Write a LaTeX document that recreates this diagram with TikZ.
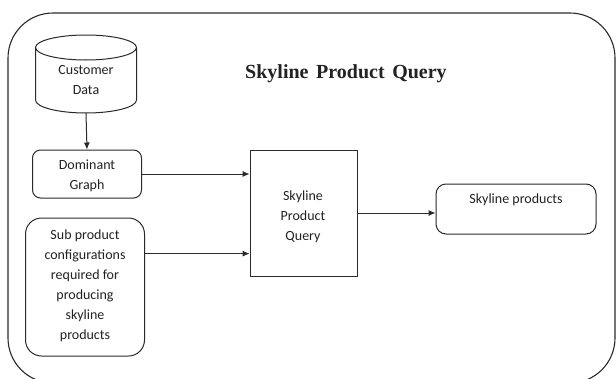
\documentclass[tikz,border=0pt]{standalone}
\usepackage{fontspec}
\setmainfont{Carlito}
\newfontfamily\titlefont{Liberation Serif}
\usetikzlibrary{arrows.meta,calc}
\definecolor{ln}{HTML}{2A2A2A}
\definecolor{tx}{HTML}{222222}
\tikzset{
  box/.style={draw=ln, line width=1pt, inner sep=0pt, text=tx},
  txt/.style={align=center, text=tx, font=\fontsize{14}{20}\selectfont, inner sep=0pt},
  arr/.style={draw=ln, line width=1pt, -{Latex[length=7pt,width=6pt]}}
}
\begin{document}
\begin{tikzpicture}[x=1pt,y=-1pt]
\useasboundingbox (0,0) rectangle (616,378);
\fill[white] (0,0) rectangle (616,378);
\begin{scope}
\clip (0,0) rectangle (616,378);
\draw[ln, line width=1.1pt, rounded corners=45pt] (8,13) rectangle (615,383);
\end{scope}
% title
\node[anchor=base, text=tx, font=\titlefont\bfseries\fontsize{20}{22}\selectfont, inner sep=0pt] (title) at (346,78) {Skyline\hspace{0.38em}Product\hspace{0.38em}Query};
% cylinder
\node[minimum width=101pt, minimum height=78pt, inner sep=0pt] (cust) at (86,74) {};
\draw[ln, line width=1pt, fill=white] (35.5,47.5) -- (35.5,100)
  arc[start angle=180, end angle=360, x radius=50.5pt, y radius=13pt] -- (136.5,47.5);
\draw[ln, line width=1pt] (86,47.5) ellipse [x radius=50.5pt, y radius=12.5pt];
\node[txt] (custt) at (86,80) {Customer\\Data};
% dominant graph
\node[box, rounded corners=8pt, minimum width=109pt, minimum height=48pt] (dom) at (87,174) {};
\node[txt] (domt) at (87,176) {Dominant\\Graph};
% sub product
\node[box, rounded corners=16pt, minimum width=119pt, minimum height=138pt] (sub) at (85,287) {};
\node[txt] (subt) at (85,286) {Sub product\\configurations\\required for\\producing\\skyline\\products};
% skyline product query
\node[box, minimum width=107pt, minimum height=126pt] (spq) at (303.6,213) {};
\node[txt] (spqt) at (303,217) {Skyline\\Product\\Query};
% skyline products
\node[box, rounded corners=10pt, minimum width=160pt, minimum height=50pt] (sp) at (516,209) {};
\node[txt] (spt) at (516,200) {Skyline products};
% connectors
\draw[arr] (cust.south) -- (dom.north);
\draw[arr] (dom.east) -- (dom.east -| spq.west);
\coordinate (subout) at ($(sub.north east)!0.26!(sub.south east)$);
\draw[arr] (subout) -- (subout -| spq.west);
\draw[arr] (spq.east) -- (spq.east -| sp.west);
\end{tikzpicture}
\end{document}
